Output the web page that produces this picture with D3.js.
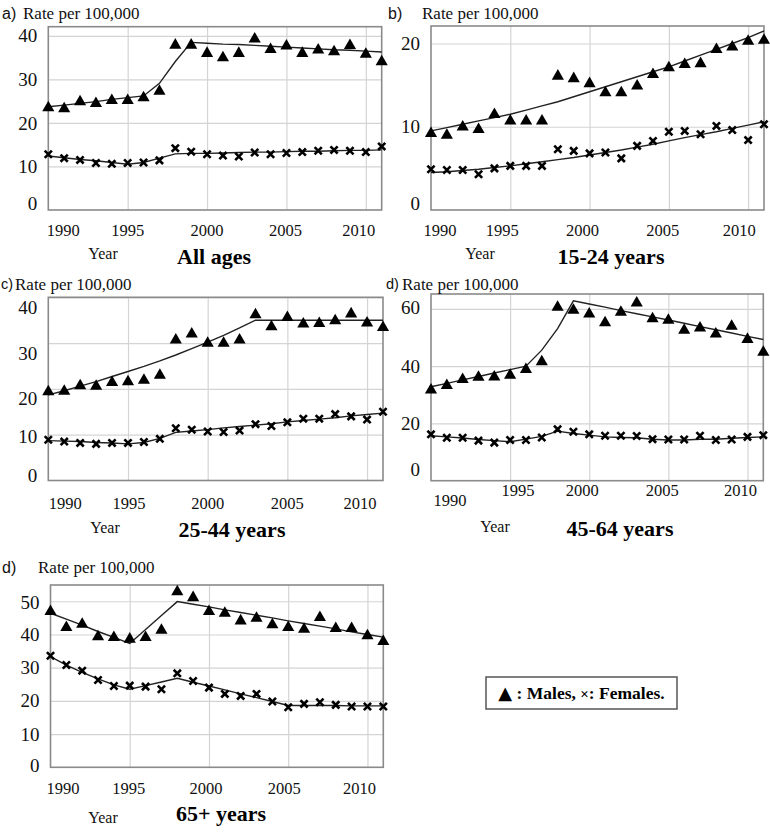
<!DOCTYPE html>
<html><head><meta charset="utf-8">
<script src="https://cdn.jsdelivr.net/npm/d3@7/dist/d3.min.js"></script>
<style>body{margin:0;background:#fff}</style>
</head><body>
<svg id="chart" width="770" height="832"></svg>
<script>
// ---------- data ----------
const years = [1990,1991,1992,1993,1994,1995,1996,1997,1998,1999,2000,2001,2002,2003,2004,2005,2006,2007,2008,2009,2010,2011];
const xTickLabels = [1990,1995,2000,2005,2010];
const xGridYears = [1995,2000,2005,2010];

// a) All ages
const allMales    = [23.7,23.5,25.1,24.7,25.4,25.4,26.0,27.5,38.1,38.1,36.2,35.2,36.2,39.5,37.1,37.9,36.2,37.0,36.6,38.0,36.0,34.3];
const allFemales  = [12.8,11.9,11.5,10.8,10.6,10.8,10.9,11.4,14.2,13.4,12.8,12.5,12.3,13.2,12.8,13.1,13.3,13.6,13.8,13.6,13.3,14.6];
const allMaleTrend   = [23.7,24.1,24.5,24.9,25.4,25.8,26.2,29.1,34.1,38.5,38.3,38.1,38.0,37.8,37.6,37.4,37.2,37.0,36.8,36.7,36.5,36.3];
const allFemaleTrend = [12.4,12.0,11.6,11.3,10.9,10.5,10.9,11.9,12.9,13.0,13.0,13.1,13.2,13.3,13.3,13.4,13.5,13.5,13.6,13.7,13.7,13.8];
const allYTicks = [0,10,20,30,40];

// b) 15-24 years
const youthMales   = [9.3,9.1,10.1,9.8,11.6,10.8,10.8,10.8,16.2,15.9,15.3,14.2,14.2,15.0,16.4,17.2,17.6,17.7,19.4,19.7,20.4,20.5];
const youthFemales = [4.9,4.8,4.8,4.3,5.0,5.3,5.3,5.3,7.3,7.1,6.8,6.9,6.2,7.7,8.3,9.4,9.5,9.1,10.1,9.6,8.4,10.3];
const youthMaleTrend   = [9.5,9.9,10.3,10.7,11.1,11.5,12.0,12.5,13.0,13.6,14.2,14.8,15.4,16.0,16.6,17.2,17.9,18.6,19.3,20.0,20.7,21.5];
const youthFemaleTrend = [4.5,4.6,4.75,4.9,5.1,5.3,5.55,5.8,6.05,6.3,6.6,6.9,7.2,7.55,7.9,8.3,8.7,9.05,9.4,9.8,10.2,10.6];
const youthYTicks = [0,10,20];

// c) 25-44 years
const adultMales   = [19.6,19.7,20.9,20.8,21.6,21.8,22.1,23.2,30.9,32.2,30.2,30.2,30.9,36.4,33.8,35.8,34.4,34.5,35.1,36.6,34.6,33.6];
const adultFemales = [8.9,8.5,8.2,8.0,8.2,8.2,8.4,9.1,11.4,11.1,10.7,10.6,10.9,12.3,11.9,12.7,13.5,13.5,14.5,14.0,13.3,15.0];
const adultMaleTrend   = [18.7,19.6,20.6,21.6,22.7,23.8,24.9,26.1,27.4,28.8,30.2,31.7,33.3,35.0,35.0,35.0,35.0,35.0,35.0,35.0,35.0,35.0];
const adultFemaleTrend = [8.7,8.6,8.5,8.3,8.2,8.0,8.3,9.2,10.5,10.8,11.1,11.5,11.8,12.1,12.4,12.8,13.1,13.4,13.7,14.1,14.4,14.7];
const adultYTicks = [0,10,20,30,40];

// d) 45-64 years
const midMales   = [32.0,33.6,35.7,36.5,36.6,37.2,39.2,41.9,60.9,59.9,58.6,55.5,59.2,62.4,56.9,56.4,52.9,53.7,51.6,54.3,49.7,45.2];
const midFemales = [16.2,15.0,15.0,14.0,13.3,14.2,14.2,15.1,18.0,17.1,16.2,15.7,15.7,15.6,14.5,14.4,14.4,15.7,14.2,14.4,15.3,15.9];
const midMaleTrend   = [32.8,34.0,35.2,36.4,37.6,38.8,40.0,45.6,53.1,62.8,61.7,60.6,59.4,58.3,57.2,56.1,55.0,53.8,52.7,51.6,50.4,49.3];
const midFemaleTrend = [15.7,15.3,14.9,14.4,14.0,13.6,14.5,15.5,17.3,16.5,15.9,15.3,15.1,15.0,14.5,14.2,14.2,14.5,14.5,14.8,15.1,15.3];
const midYTicks = [0,20,40,60];

// e) 65+ years
const oldMales   = [47.2,42.4,43.4,39.6,39.4,38.9,39.4,41.6,53.2,51.4,47.2,46.7,44.4,45.2,43.2,42.4,41.9,45.4,42.1,42.1,39.9,38.2];
const oldFemales = [33.6,30.8,29.1,26.3,24.5,24.6,24.3,23.5,28.3,26.0,24.0,22.1,21.5,22.1,19.8,18.1,19.1,19.6,18.8,18.3,18.3,18.3];
const oldMaleTrend   = [46.4,44.6,42.8,40.9,39.1,37.3,41.5,45.7,49.9,49.1,48.3,47.4,46.6,45.8,45.0,44.1,43.3,42.5,41.7,40.8,40.0,39.2];
const oldFemaleTrend = [33.3,30.8,28.6,26.6,24.8,23.5,24.6,25.7,26.8,25.6,24.5,23.3,22.1,21.0,19.8,18.6,18.6,18.6,18.6,18.5,18.5,18.5];
const oldYTicks = [0,10,20,30,40,50];

const panelLetters = ["a)","b)","c)","d)","d)"];
const panelTitles = ["All ages","15-24 years","25-44 years","45-64 years","65+ years"];
const yLabelText = "Rate per 100,000";
const xLabelText = "Year";
const legendText = ["▲", " : Males, ", "×", ": Females."];

// ---------- layout (positions / styles only) ----------
const layout = [
  {box:{l:48.3,r:381.7,t:26.7,b:210}, yMax:42.1, letter:[2,13], letterSize:16, rate:[23,13], year:[103,253], title:[214,256],
   xLabY:[230,230,230,230,230], xLabDx:[15,0,0,-1,-7], yLabDy:[-7,0,0,0,0]},
  {box:{l:431,r:764,t:26,b:210}, yMax:22.1, letter:[388,13], letterSize:16, rate:[422,13], year:[480,253], title:[611,256],
   xLabY:[230,230,230,230,230], xLabDx:[9,-8,-7,-6,-9], yLabDy:[-7,0,0]},
  {box:{l:48.3,r:383,t:297.3,b:480.5}, yMax:40, letter:[1,284], letterSize:14.5, rate:[15,284], year:[105,527], title:[232,529],
   xLabY:[503,503,503,503,503], xLabDx:[17,1,0,0,-7], yLabDy:[-5,2,10,10,10]},
  {box:{l:431,r:763.3,t:294,b:480.7}, yMax:65.2, letter:[386,284], letterSize:14.5, rate:[402,284], year:[495,526], title:[620,528],
   xLabY:[500,490,490,490,490], xLabDx:[19,8,-7,-6,-7], yLabDy:[-11,0,0,-1]},
  {box:{l:50.5,r:383.3,t:585,b:767.3}, yMax:54.9, letter:[2,567], letterSize:16, rate:[38,567], year:[103,817], title:[221,813],
   xLabY:[788,788,788,788,788], xLabDx:[12.5,-1,-3,-4,-8], yLabDy:[-2,0,0,0,0,1]}
];

const series = [
  {males:allMales, females:allFemales, mt:allMaleTrend, ft:allFemaleTrend, yTicks:allYTicks},
  {males:youthMales, females:youthFemales, mt:youthMaleTrend, ft:youthFemaleTrend, yTicks:youthYTicks},
  {males:adultMales, females:adultFemales, mt:adultMaleTrend, ft:adultFemaleTrend, yTicks:adultYTicks},
  {males:midMales, females:midFemales, mt:midMaleTrend, ft:midFemaleTrend, yTicks:midYTicks},
  {males:oldMales, females:oldFemales, mt:oldMaleTrend, ft:oldFemaleTrend, yTicks:oldYTicks}
];

const svg = d3.select("#chart");
const serif = "'Liberation Serif','Times New Roman',serif";
const sans = "'Liberation Sans',Arial,sans-serif";

series.forEach((s, i) => {
  const L = layout[i];
  const x = d3.scaleLinear().domain([1990, 2011]).range([L.box.l, L.box.r]);
  const y = d3.scaleLinear().domain([0, L.yMax]).range([L.box.b, L.box.t]);
  const g = svg.append("g");

  // gridlines
  g.append("g").attr("transform", `translate(0,${L.box.b})`)
    .call(d3.axisBottom(x).tickValues(xGridYears).tickSize(-(L.box.b - L.box.t)).tickFormat(""))
    .call(a => { a.select(".domain").remove(); a.selectAll("line").attr("stroke", "#d4d4d4").attr("stroke-width", 1.2); });
  g.append("g").attr("transform", `translate(${L.box.l},0)`)
    .call(d3.axisLeft(y).tickValues(s.yTicks.filter(v => v > 0)).tickSize(-(L.box.r - L.box.l)).tickFormat(""))
    .call(a => { a.select(".domain").remove(); a.selectAll("line").attr("stroke", "#d4d4d4").attr("stroke-width", 1.2); });

  // border
  g.append("rect").attr("x", L.box.l).attr("y", L.box.t)
    .attr("width", L.box.r - L.box.l).attr("height", L.box.b - L.box.t)
    .attr("fill", "none").attr("stroke", "#8a8a8a").attr("stroke-width", 1.6);

  // y tick labels
  g.append("g").attr("transform", `translate(${L.box.l},0)`)
    .call(d3.axisLeft(y).tickValues(s.yTicks).tickSize(0).tickPadding(11))
    .call(a => {
      a.select(".domain").remove();
      a.selectAll("text").attr("font-family", serif).attr("font-size", 19).attr("fill", "#111")
        .attr("dy", (d, k) => (0.32 * 19 + L.yLabDy[k]) + "px");
    });

  // x tick labels
  g.append("g").selectAll("text").data(xTickLabels).join("text")
    .attr("x", (d, k) => x(d) + L.xLabDx[k])
    .attr("y", (d, k) => L.xLabY[k])
    .attr("dy", "0.35em").attr("text-anchor", "middle")
    .attr("font-family", serif).attr("font-size", 16.5).attr("fill", "#111")
    .text(d => d);

  // trend lines
  const line = d3.line().x((d, k) => x(years[k])).y(d => y(d));
  [s.mt, s.ft].forEach(t => {
    g.append("path").datum(t).attr("d", line)
      .attr("fill", "none").attr("stroke", "#222").attr("stroke-width", 1.4);
  });

  // male triangles
  const tri = d3.symbol().type(d3.symbolTriangle).size(64);
  g.append("g").selectAll("path").data(s.males).join("path")
    .attr("d", tri)
    .attr("transform", (d, k) => `translate(${x(years[k])},${y(d) + 1})`)
    .attr("fill", "#000");

  // female crosses
  const c = 3.6;
  g.append("g").selectAll("path").data(s.females).join("path")
    .attr("d", `M${-c},${-c}L${c},${c}M${-c},${c}L${c},${-c}`)
    .attr("transform", (d, k) => `translate(${x(years[k])},${y(d)})`)
    .attr("stroke", "#000").attr("stroke-width", 2.6).attr("fill", "none");

  // labels
  g.append("text").attr("x", L.letter[0]).attr("y", L.letter[1]).attr("dy", "0.35em")
    .attr("font-family", sans).attr("font-size", L.letterSize).attr("fill", "#111").text(panelLetters[i]);
  g.append("text").attr("x", L.rate[0]).attr("y", L.rate[1]).attr("dy", "0.35em")
    .attr("font-family", serif).attr("font-size", 17).attr("fill", "#111").text(yLabelText);
  g.append("text").attr("x", L.year[0]).attr("y", L.year[1]).attr("dy", "0.35em").attr("text-anchor", "middle")
    .attr("font-family", serif).attr("font-size", 16).attr("fill", "#111").text(xLabelText);
  g.append("text").attr("x", L.title[0]).attr("y", L.title[1]).attr("dy", "0.35em").attr("text-anchor", "middle")
    .attr("font-family", serif).attr("font-size", 22).attr("font-weight", "bold").attr("fill", "#000").text(panelTitles[i]);
});

// legend
const lg = svg.append("g");
lg.append("rect").attr("x", 486).attr("y", 677).attr("width", 191).attr("height", 32)
  .attr("fill", "#fff").attr("stroke", "#555").attr("stroke-width", 1.5);
const lt = lg.append("text").attr("x", 581.5).attr("y", 693).attr("dy", "0.35em").attr("text-anchor", "middle")
  .attr("font-family", serif).attr("font-size", 17.5).attr("font-weight", "bold").attr("fill", "#000");
lt.append("tspan").attr("font-size", 18).attr("font-family", "'DejaVu Sans',sans-serif").attr("font-weight", "normal").text(legendText[0]);
lt.append("tspan").text(legendText[1]);
lt.append("tspan").attr("font-size", 15).text(legendText[2]);
lt.append("tspan").text(legendText[3]);
</script>
</body></html>
